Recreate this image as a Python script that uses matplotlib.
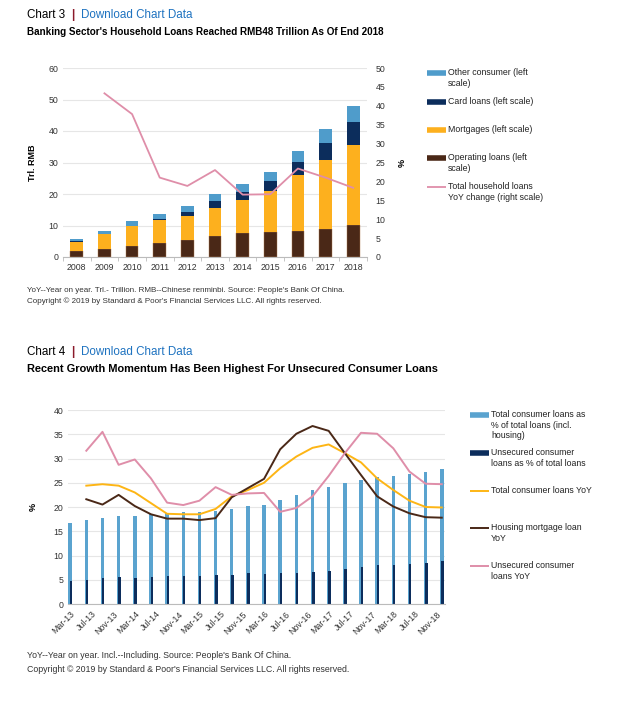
import numpy as np
import matplotlib
matplotlib.use("Agg")
import matplotlib.pyplot as plt
from matplotlib.lines import Line2D

plt.rcParams['font.family'] = ['Liberation Sans', 'DejaVu Sans']

W, H = 638, 703

# ---- chart 3 data (Tril. RMB, stacked) ----
years = ['2008', '2009', '2010', '2011', '2012', '2013', '2014', '2015', '2016', '2017', '2018']
operating = [1.9, 2.5, 3.5, 4.6, 5.5, 6.7, 7.6, 8.0, 8.2, 8.8, 10.1]
mortgages = [2.9, 4.7, 6.3, 7.1, 7.6, 8.9, 10.4, 13.0, 17.8, 22.0, 25.5]
card = [0.2, 0.2, 0.2, 0.3, 1.2, 2.1, 2.5, 3.2, 4.3, 5.5, 7.1]
other = [0.8, 0.8, 1.4, 1.6, 1.9, 2.3, 2.7, 2.9, 3.2, 4.3, 5.3]
hh_yoy = [np.nan, 43.3, 37.8, 21.0, 18.8, 23.0, 16.5, 16.6, 23.4, 21.0, 18.3]

# ---- chart 4 data (%, quarterly from Mar-13 to Dec-18) ----
consumer_share = [16.8, 17.4, 17.8, 18.2, 18.2, 18.5, 18.7, 18.9, 18.9, 19.1, 19.6, 20.2,
                  20.4, 21.5, 22.5, 23.5, 24.2, 24.9, 25.6, 26.1, 26.4, 26.8, 27.2, 27.8]
unsecured_share = [4.8, 5.0, 5.4, 5.6, 5.4, 5.6, 5.8, 5.8, 5.7, 6.0, 6.0, 6.3,
                   6.2, 6.3, 6.4, 6.7, 6.9, 7.3, 7.7, 8.1, 8.1, 8.3, 8.5, 8.9]
consumer_yoy = [np.nan, 24.4, 24.7, 24.4, 23.0, 20.8, 18.6, 18.5, 18.5, 19.6, 22.2, 23.5,
                25.0, 28.0, 30.4, 32.2, 32.9, 31.1, 29.2, 25.9, 23.5, 21.3, 20.0, 19.9]
mortgage_yoy = [np.nan, 21.6, 20.5, 22.5, 20.2, 18.5, 17.6, 17.6, 17.3, 17.7, 22.0, 23.9,
                25.8, 31.9, 35.1, 36.7, 35.7, 31.1, 26.6, 22.2, 20.1, 18.7, 17.9, 17.8]
unsecured_yoy = [np.nan, 31.6, 35.5, 28.7, 29.8, 25.9, 20.9, 20.4, 21.3, 24.1, 22.5, 22.8,
                 22.9, 19.0, 19.8, 22.2, 26.4, 31.1, 35.3, 35.1, 32.1, 27.3, 24.8, 24.7]
month_labels = ['Mar-13', 'Jul-13', 'Nov-13', 'Mar-14', 'Jul-14', 'Nov-14', 'Mar-15', 'Jul-15',
                'Nov-15', 'Mar-16', 'Jul-16', 'Nov-16', 'Mar-17', 'Jul-17', 'Nov-17', 'Mar-18',
                'Jul-18', 'Nov-18']

c_other = '#4f9ccb'
c_card = '#0c2d5c'
c_mort = '#fdb01e'
c_oper = '#4a2817'
c_pink = '#df8ea9'
c_txt = '#333333'
c_grid = '#e6e6e6'


def rect(l, t, r, b):
    return [l / W, 1 - b / H, (r - l) / W, (b - t) / H]


def header(y, num, subtitle, subsize):
    fig.text(27 / W, 1 - y / H, f'Chart {num}', fontsize=8.4, color='black', va='center')
    fig.text(71 / W, 1 - y / H, '|', fontsize=8.4, color='#8b1a2b', va='center', fontweight='bold')
    fig.text(81 / W, 1 - y / H, 'Download Chart Data', fontsize=8.4, color='#1f73c0',
             va='center')
    fig.text(27 / W, 1 - (y + 17) / H, subtitle, fontsize=subsize, fontweight='bold', va='center')


def legend_entry(x, y, color, lw, label):
    fig.add_artist(Line2D([x / W, (x + 19) / W], [1 - y / H, 1 - y / H], color=color, lw=lw,
                          solid_capstyle='butt'))
    fig.text((x + 21) / W, 1 - (y - 5) / H, label, fontsize=6.3, color='#222222', va='top',
             linespacing=1.25)


def style(ax):
    for s in ['top', 'left', 'right']:
        ax.spines[s].set_visible(False)
    ax.spines['bottom'].set_color('#bbbbbb')
    ax.tick_params(axis='y', length=0, labelsize=6.3, labelcolor=c_txt)
    ax.yaxis.grid(True, color=c_grid, lw=0.8)
    ax.set_axisbelow(True)


fig = plt.figure(figsize=(W / 100, H / 100), dpi=100)

# ================= chart 3 =================
header(15, 3, "Banking Sector's Household Loans Reached RMB48 Trillion As Of End 2018", 7.1)

ax = fig.add_axes(rect(63, 68, 367, 257))
x = np.arange(len(years))
bw = 0.46
ax.bar(x, operating, bw, color=c_oper, edgecolor='#b07a50', lw=0.3)
b1 = np.array(operating)
ax.bar(x, mortgages, bw, bottom=b1, color=c_mort, lw=0)
b2 = b1 + np.array(mortgages)
ax.bar(x, card, bw, bottom=b2, color=c_card, lw=0)
b3 = b2 + np.array(card)
ax.bar(x, other, bw, bottom=b3, color=c_other, lw=0)
style(ax)
ax.set_xlim(-0.5, len(years) - 0.5)
ax.set_ylim(0, 60)
ax.set_yticks(range(0, 61, 10))
ax.set_xticks(x)
ax.set_xticklabels(years)
ax.set_xticks(np.arange(-0.5, len(years), 1), minor=True)
ax.tick_params(axis='x', which='major', length=0, labelsize=6.3, labelcolor=c_txt, pad=4)
ax.tick_params(axis='x', which='minor', length=3, color='#bbbbbb')
ax.set_ylabel('Trl. RMB', fontsize=6.5, fontweight='bold', labelpad=8)

ax2 = ax.twinx()
ax2.plot(x, hh_yoy, color=c_pink, lw=1.3)
ax2.set_ylim(0, 50)
ax2.set_yticks(range(0, 51, 5))
for s in ['top', 'left', 'right', 'bottom']:
    ax2.spines[s].set_visible(False)
ax2.tick_params(axis='y', length=0, labelsize=6.3, labelcolor=c_txt, pad=6)
ax2.set_ylabel('%', fontsize=6.5, fontweight='bold', rotation=90, labelpad=9)

legend_entry(427, 73, c_other, 4, 'Other consumer (left\nscale)')
legend_entry(427, 102, c_card, 4, 'Card loans (left scale)')
legend_entry(427, 130, c_mort, 4, 'Mortgages (left scale)')
legend_entry(427, 158, c_oper, 4, 'Operating loans (left\nscale)')
legend_entry(427, 187, c_pink, 1.3, 'Total household loans\nYoY change (right scale)')

fig.text(27 / W, 1 - 290 / H, "YoY--Year on year. Trl.- Trillion. RMB--Chinese renminbi. Source: People's Bank Of China.",
         fontsize=5.8, color=c_txt, va='center')
fig.text(27 / W, 1 - 301 / H, "Copyright \u00a9 2019 by Standard & Poor's Financial Services LLC. All rights reserved.",
         fontsize=5.8, color=c_txt, va='center')

# ================= chart 4 =================
header(352, 4, "Recent Growth Momentum Has Been Highest For Unsecured Consumer Loans", 7.9)

ax = fig.add_axes(rect(68, 410, 445, 604))
q = np.arange(len(consumer_share)) * 3
ax.bar(q, consumer_share, 0.65, color='#5aa3cf', lw=0)
ax.bar(q + 0.15, unsecured_share, 0.45, color=c_card, lw=0)
ax.plot(q, consumer_yoy, color='#fdb515', lw=1.4)
ax.plot(q, mortgage_yoy, color=c_oper, lw=1.4)
ax.plot(q, unsecured_yoy, color=c_pink, lw=1.4)
style(ax)
ax.set_xlim(-0.4, 69.6)
ax.set_ylim(0, 40)
ax.set_yticks(range(0, 41, 5))
ax.set_xticks(np.arange(len(month_labels)) * 4)
ax.set_xticklabels(month_labels, rotation=45, ha='right', rotation_mode='anchor')
ax.tick_params(axis='x', length=0, labelsize=6.3, labelcolor=c_txt, pad=4)
ax.set_ylabel('%', fontsize=6.5, fontweight='bold', labelpad=11)

legend_entry(470, 415, '#5aa3cf', 4, 'Total consumer loans as\n% of total loans (incl.\nhousing)')
legend_entry(470, 453, c_card, 4, 'Unsecured consumer\nloans as % of total loans')
legend_entry(470, 491, '#fdb515', 1.4, 'Total consumer loans YoY')
legend_entry(470, 528, c_oper, 1.4, 'Housing mortgage loan\nYoY')
legend_entry(470, 566, c_pink, 1.4, 'Unsecured consumer\nloans YoY')

fig.text(27 / W, 1 - 655 / H, "YoY--Year on year. Incl.--Including. Source: People's Bank Of China.",
         fontsize=6.3, color=c_txt, va='center')
fig.text(27 / W, 1 - 669 / H, "Copyright \u00a9 2019 by Standard & Poor's Financial Services LLC. All rights reserved.",
         fontsize=6.3, color=c_txt, va='center')

fig.savefig('out.png', dpi=100)
